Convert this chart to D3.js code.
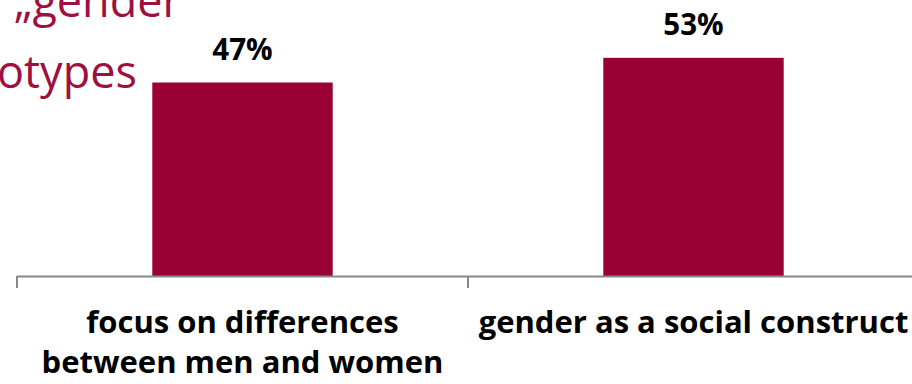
<!DOCTYPE html>
<html>
<head>
<meta charset="utf-8">
<script src="https://cdn.jsdelivr.net/npm/d3@7"></script>
<style>
  body { margin: 0; background: #fff; }
  svg { display: block; }
</style>
</head>
<body>
<svg id="chart" width="912" height="384"></svg>
<script>
// values
const categories = ['focus on differences|between men and women', 'gender as a social construct'];
const values = [47, 53];
const valueLabels = ['47%', '53%'];
const titleBits = ['\u201Egender', 'otypes'];

const width = 912, height = 384;
const svg = d3.select('#chart');

const x = d3.scaleBand()
    .domain(categories)
    .range([17, 919])   // third tick falls just off the right edge
    .paddingInner(0.6)
    .paddingOuter(0.3);

const y = d3.scaleLinear()
    .domain([0, 60])
    .range([276, 29]);

// leftover bits of the slide title behind the chart
svg.selectAll('.title')
    .data(titleBits)
    .join('text')
    .attr('class', 'title')
    .attr('x', (d, i) => i === 0 ? 14 : -3)
    .attr('y', (d, i) => i === 0 ? 17 : 88)
    .attr('fill', '#9e1040')
    .style('font-family', 'Open Sans')
    .style('font-size', '45px')
    .text(d => d);

svg.selectAll('.bar')
    .data(values)
    .join('rect')
    .attr('class', 'bar')
    .attr('x', (d, i) => x(categories[i]))
    .attr('y', d => y(d))
    .attr('width', x.bandwidth())
    .attr('height', d => y(0) - y(d))
    .attr('fill', '#990033');

svg.selectAll('.val')
    .data(values)
    .join('text')
    .attr('class', 'val')
    .attr('x', (d, i) => x(categories[i]) + x.bandwidth() / 2)
    .attr('y', d => y(d) - 23)
    .attr('text-anchor', 'middle')
    .style('font-family', 'Open Sans')
    .style('font-weight', 'bold')
    .style('font-size', '29.5px')
    .text((d, i) => valueLabels[i]);

// axis with ticks between the categories
const step = x.step();
const axisG = svg.append('g').attr('class', 'x-axis');
axisG.append('line')
    .attr('x1', 17).attr('x2', width)
    .attr('y1', y(0) + 0.5).attr('y2', y(0) + 0.5)
    .attr('stroke', '#888').attr('stroke-width', 2);

const tickXs = d3.range(categories.length + 1).map(i => 17 + i * step);
axisG.selectAll('.tick')
    .data(tickXs)
    .join('line')
    .attr('class', 'tick')
    .attr('x1', d => d).attr('x2', d => d)
    .attr('y1', y(0)).attr('y2', y(0) + 12)
    .attr('stroke', '#888').attr('stroke-width', 2);

axisG.selectAll('.cat')
    .data(categories)
    .join('text')
    .attr('class', 'cat')
    .attr('x', d => x(d) + x.bandwidth() / 2)
    .attr('y', 333)
    .attr('text-anchor', 'middle')
    .style('font-family', 'Open Sans')
    .style('font-weight', 'bold')
    .style('font-size', '31px')
    .each(function(d) {
        const t = d3.select(this);
        d.split('|').forEach((line, i) => {
            t.append('tspan')
                .attr('x', x(d) + x.bandwidth() / 2)
                .attr('dy', i === 0 ? 0 : 40)
                .text(line);
        });
    });
</script>
</body>
</html>
